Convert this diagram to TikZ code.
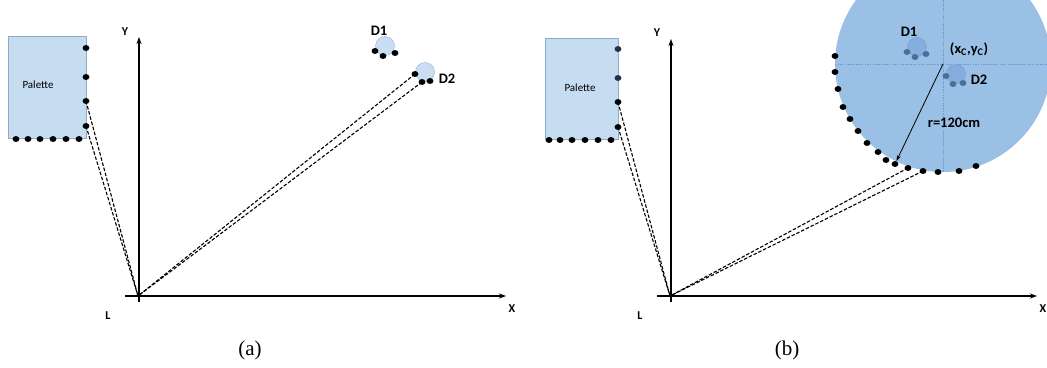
\documentclass[tikz,border=0pt]{standalone}
\usepackage{fontspec}
\setsansfont{Carlito}
\newfontfamily\capfont{Liberation Serif}
\usetikzlibrary{arrows.meta,shapes.geometric}
\definecolor{palfill}{HTML}{C6DCF1}
\definecolor{paldraw}{HTML}{8FAACB}
\definecolor{bigblue}{HTML}{9AC0E5}
\definecolor{crossc}{HTML}{6A9AD6}
\definecolor{dcfill}{HTML}{86AEDC}
\definecolor{dcdraw}{HTML}{78A2D6}
\definecolor{ddotc}{HTML}{4A6E98}
\definecolor{navydot}{HTML}{1F3050}
\definecolor{dafill}{HTML}{C9DEF3}
\definecolor{dadraw}{HTML}{9CB9DB}
\begin{document}
\begin{tikzpicture}[x=1pt,y=-1pt,
  pdot/.style={ellipse,fill=black,inner sep=0pt,minimum width=6.8pt,minimum height=6pt},
  sdot/.style={ellipse,fill=ddotc,inner sep=0pt,minimum width=6.8pt,minimum height=6pt},
  palette/.style={draw=paldraw,fill=palfill,line width=0.6pt,inner sep=0pt},
  axis/.style={line width=1.5pt,-{Stealth[length=7pt,width=5pt]}},
  ray/.style={line width=1.1pt,dash pattern=on 3.5pt off 1.8pt},
  lab/.style={font=\sffamily\bfseries\fontsize{12}{14}\selectfont,inner sep=0pt},
  dlab/.style={font=\sffamily\bfseries\fontsize{14.5}{16}\selectfont,inner sep=0pt},
  dcira/.style={circle,draw=dadraw,fill=dafill,line width=0.5pt,minimum size=19pt,inner sep=0pt},
  dcirb/.style={circle,draw=dcdraw,fill=dcfill,line width=0.5pt,minimum size=19pt,inner sep=0pt},
  cross/.style={crossc,line width=0.7pt,dash pattern=on 1.5pt off 1.2pt},
  captext/.style={font=\capfont\fontsize{21}{23}\selectfont,inner sep=0pt},
  paltext/.style={font=\sffamily\fontsize{11}{13}\selectfont,inner sep=0pt}
]
\useasboundingbox (0,0) rectangle (1047,367);

% ---------------- panel (a) ----------------
\coordinate (Oa) at (138,296);
\coordinate (Xa0) at (125,296);
\coordinate (Xa1) at (506,296);
\coordinate (Ya0) at (139,302);
\coordinate (Ya1) at (139,37);
\draw[axis] (Xa0) -- (Xa1);
\draw[axis] (Ya0) -- (Ya1);
\node[lab] (ya) at (125,32) {Y};
\node[lab] (xa) at (512,309) {X};
\node[lab] (la) at (108,316) {L};

\node[palette,minimum width=78pt,minimum height=102pt] (pala) at (47,87) {};
\node[paltext] (palta) at (38,85) {Palette};
\foreach \y [count=\i] in {48,77,101,126} \node[pdot] (par\i) at (86,\y) {};
\foreach \x [count=\i] in {16,28,40,53,66,79} \node[pdot] (pab\i) at (\x,139) {};

\node[dcira] (d1a) at (385,46) {};
\node[pdot] (d1a1) at (375,51) {};
\node[pdot] (d1a2) at (383,56) {};
\node[pdot] (d1a3) at (395,53) {};
\node[dlab] (d1la) at (379,31) {D1};

\node[dcira] (d2a) at (425,72) {};
\node[pdot] (d2a1) at (415,74) {};
\node[pdot] (d2a2) at (422,82) {};
\node[pdot] (d2a3) at (430,81) {};
\node[dlab] (d2la) at (447,79) {D2};

\draw[ray] (par3.center) -- (Oa);
\draw[ray] (par4.center) -- (Oa);
\draw[ray] (d2a1.center) -- (Oa);
\draw[ray] (d2a2.center) -- (Oa);

\node[captext] (capa) at (250,350) {(a)};

% ---------------- panel (b) ----------------
\begin{scope}
\clip (0,0) rectangle (1047,367);
\node[circle,fill=bigblue,minimum size=216pt,inner sep=0pt] (bigc) at (943,64) {};
\draw[cross] (bigc.west) -- (1047,64);
\draw[cross] (943,0) -- (bigc.south);
\end{scope}

\coordinate (Ob) at (670,296);
\coordinate (Xb0) at (657,296);
\coordinate (Xb1) at (1037,296);
\coordinate (Yb0) at (671,302);
\coordinate (Yb1) at (671,39);
\draw[axis] (Xb0) -- (Xb1);
\draw[axis] (Yb0) -- (Yb1);
\node[lab] (yb) at (657,33) {Y};
\node[lab] (xb) at (1043,309) {X};
\node[lab] (lb) at (640,316) {L};

\node[palette,minimum width=73pt,minimum height=101pt] (palb) at (581.5,88.5) {};
\node[paltext] (paltb) at (580,88) {Palette};
\foreach \y [count=\i] in {49,78} \node[pdot,fill=navydot] (pbr\i) at (618,\y) {};
\foreach \y [count=\i from 3] in {102,127} \node[pdot] (pbr\i) at (618,\y) {};
\foreach \x [count=\i] in {549,560,572,585,598,611} \node[pdot] (pbb\i) at (\x,140) {};

\node[dcirb] (d1b) at (917,47) {};
\node[sdot] (d1b1) at (907,52) {};
\node[sdot] (d1b2) at (915,57) {};
\node[sdot] (d1b3) at (926,54) {};
\node[dlab] (d1lb) at (909,32) {D1};

\node[dcirb] (d2b) at (956,74) {};
\node[sdot] (d2b1) at (946,76) {};
\node[sdot] (d2b2) at (953,84) {};
\node[sdot] (d2b3) at (963,83) {};
\node[dlab] (d2lb) at (979,80) {D2};

\node[dlab] (xcl) at (969,49) {(x\textsubscript{C},y\textsubscript{C})};
\node[dlab] (rl) at (954,123) {r=120cm};

\foreach \x/\y [count=\i] in {835/56,835/72,838/89,843/107,850/119,858/131,867/143,878/152,886/160,895/164,908/168,923/171,938/172,959/171,976/166}
  \node[pdot] (cd\i) at (\x,\y) {};

\draw[line width=0.8pt,-{Stealth[length=6pt,width=4pt]}] (bigc.center) -- (cd10);

\draw[ray] (pbr3.center) -- (Ob);
\draw[ray] (pbr4.center) -- (Ob);
\draw[ray] (cd11.center) -- (Ob);
\draw[ray] (cd12.center) -- (Ob);

\node[captext] (capb) at (787,350) {(b)};
\end{tikzpicture}
\end{document}
